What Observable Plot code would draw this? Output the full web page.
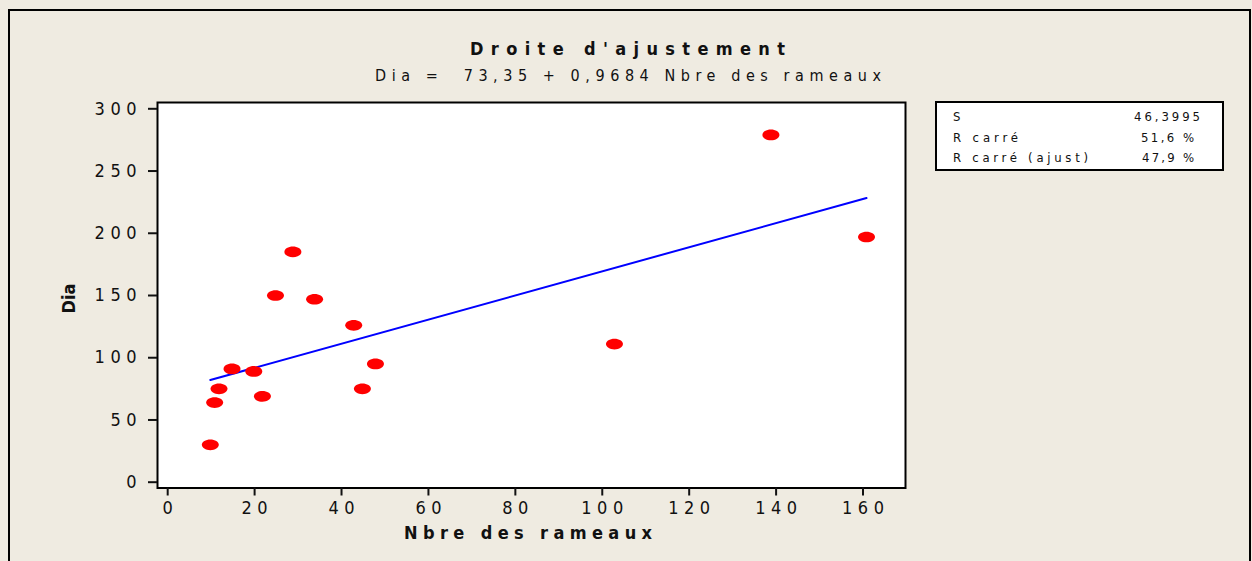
<!DOCTYPE html>
<html>
<head>
<meta charset="utf-8">
<script src="https://cdn.jsdelivr.net/npm/d3@7"></script>
<script src="https://cdn.jsdelivr.net/npm/@observablehq/plot@0.6"></script>
<style>
  html, body { margin: 0; padding: 0; background: #EFEBE1; }
  #fig {
    position: relative; width: 1252px; height: 561px; overflow: hidden;
    background: #EFEBE1;
  }
  #border {
    position: absolute; left: 8px; top: 9px; width: 1243px; height: 640px;
    border: 2px solid #000; box-sizing: border-box;
  }
  #chart { position: absolute; left: 0; top: 0; }
  #chart svg { display: block; }
  #stats { position: absolute; left: 935px; top: 101px; }
  #stats svg { display: block; overflow: visible; }
</style>
</head>
<body>
<div id="fig">
  <div id="chart"></div>
  <div id="stats"></div>
  <div id="border"></div>
</div>
<script>
// Observations: number of branches vs. diameter
const nbreRameaux = [9, 10, 11, 14, 19, 21, 24, 28, 33, 42, 44, 47, 102, 138, 160];
const dia         = [30, 64, 75, 91, 89, 69, 150, 185, 147, 126, 75, 95, 111, 279, 197];

// Fitted regression: Dia = 73,35 + 0,9684 Nbre des rameaux
const intercept = 73.35;
const slope = 0.9684;

// Axis ticks
const xTicks = [0, 20, 40, 60, 80, 100, 120, 140, 160];
const yTicks = [0, 50, 100, 150, 200, 250, 300];

// Texts
const titleText = "Droite d'ajustement";
const subtitleText = "Dia =  73,35 + 0,9684 Nbre des rameaux";
const xLabel = "Nbre des rameaux";
const yLabel = "Dia";

// Fit summary table
const statLabels = ["S", "R carré", "R carré (ajust)"];
const statValues = ["46,3995", "51,6 %", "47,9 %"];

const points = nbreRameaux.map((x, i) => ({x, y: dia[i]}));
const fitLine = d3.extent(nbreRameaux).map((x) => ({x, y: intercept + slope * x}));

// Flat ellipse marker (wider than tall)
const ellipse = {
  draw(context, size) {
    const rx = Math.sqrt(size / Math.PI);
    const ry = rx * 0.63;
    const k = 0.5523;
    context.moveTo(rx, 0);
    context.bezierCurveTo(rx, ry * k, rx * k, ry, 0, ry);
    context.bezierCurveTo(-rx * k, ry, -rx, ry * k, -rx, 0);
    context.bezierCurveTo(-rx, -ry * k, -rx * k, -ry, 0, -ry);
    context.bezierCurveTo(rx * k, -ry, rx, -ry * k, rx, 0);
    context.closePath();
  }
};

const font = '"DejaVu Sans Condensed", "DejaVu Sans", sans-serif';

const chart = Plot.plot({
  width: 1252,
  height: 561,
  marginLeft: 157,
  marginRight: 347,
  marginTop: 102,
  marginBottom: 73.5,
  style: {background: "transparent", color: "#111", fontFamily: font, fontSize: "18px", fontStretch: "condensed", overflow: "visible"},
  x: {domain: [-3.15, 168.97]},
  y: {domain: [-4.66, 305.06]},
  marks: [
    Plot.frame({fill: "white", stroke: "none"}),
    Plot.line(fitLine, {x: "x", y: "y", stroke: "#0000FF", strokeWidth: 2}),
    Plot.dot(points, {x: "x", y: "y", r: 8.5, symbol: ellipse, fill: "#FF0000", stroke: "none"}),
    Plot.frame({stroke: "#000", strokeWidth: 2}),
    Plot.axisX({ticks: xTicks, tickSize: 8, tickPadding: 5, strokeWidth: 2, label: null,
                tickFormat: (d) => String(d), fontSize: 18, dx: -3.5}),
    Plot.axisY({ticks: yTicks, tickSize: 9, tickPadding: 12, strokeWidth: 2, label: null,
                tickFormat: (d) => String(d), fontSize: 18}),
    Plot.text([titleText], {text: (d) => d, frameAnchor: "top", textAnchor: "middle", lineAnchor: "middle",
                dx: 96, dy: -53, fontWeight: "bold", fontSize: 18}),
    Plot.text([subtitleText], {text: (d) => d, frameAnchor: "top", textAnchor: "middle", lineAnchor: "middle",
                dx: 96.5, dy: -27, fontSize: 16}),
    Plot.text([xLabel], {text: (d) => d, frameAnchor: "bottom", textAnchor: "middle", lineAnchor: "middle",
                dx: -3.5, dy: 45.5, fontWeight: "bold", fontSize: 18}),
    Plot.text([yLabel], {text: (d) => d, frameAnchor: "left", textAnchor: "middle", lineAnchor: "middle",
                dx: -88.5, dy: 3.25, rotate: -90, fontWeight: "bold", fontSize: 18})
  ]
});
document.getElementById("chart").appendChild(chart);

// Widely spaced lettering: stretch each text to its spaced-out length
const root = d3.select(chart);
function spread(sel, length) {
  sel.attr("lengthAdjust", "spacing").attr("textLength", length);
}
function spreadDigits(sel, pitch) {
  sel.each(function () {
    const n = this.textContent.length;
    if (n < 2) return;
    const adv = this.getComputedTextLength() / n;
    spread(d3.select(this), pitch * (n - 1) + adv);
  });
}
spreadDigits(root.selectAll('g[aria-label="x-axis tick label"] text'), 15.8);
spreadDigits(root.selectAll('g[aria-label="y-axis tick label"] text'), 15.8);
const byText = (s) => root.selectAll("text").filter(function () { return this.textContent === s; });
byText(titleText).attr("xml:space", "preserve");
spread(byText(titleText), 315);
byText(subtitleText).attr("xml:space", "preserve").style("white-space", "pre");
spread(byText(subtitleText), 506);
spread(byText(xLabel), 248);

// Summary table of the fit
const boxW = 289, boxH = 70;
const rowY = [15, 36, 56.5];
const labelLen = [null, 65, 135];
const valueX = [199, 206, 207];
const valueLen = [66, 53, 52];
const table = d3.select("#stats").append("svg")
  .attr("width", boxW).attr("height", boxH)
  .style("font-family", font).style("font-stretch", "condensed")
  .style("font-size", "13px").style("fill", "#111");
table.append("rect").attr("x", 1).attr("y", 1).attr("width", boxW - 2).attr("height", boxH - 2)
  .attr("fill", "#fff").attr("stroke", "#000").attr("stroke-width", 2);
statLabels.forEach((label, i) => {
  const t = table.append("text").attr("x", 18).attr("y", rowY[i]).attr("dy", "0.36em").text(label);
  if (labelLen[i]) spread(t, labelLen[i]);
  spread(table.append("text").attr("x", valueX[i]).attr("y", rowY[i]).attr("dy", "0.36em")
    .text(statValues[i]), valueLen[i]);
});
</script>
</body>
</html>
